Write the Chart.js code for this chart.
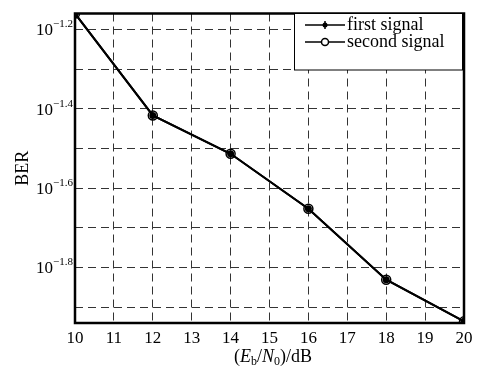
<!DOCTYPE html>
<html lang="en">
<head>
    <meta charset="UTF-8">
    <title>BER vs Eb/N0</title>
    <script src="https://cdn.jsdelivr.net/npm/chart.js"></script>
    <style>
        body { margin: 0; background: #fff; }
        #wrap { width: 487px; height: 369px; }
    </style>
</head>
<body>
    <div id="wrap"><canvas id="berChart"></canvas></div>

    <script>
        // values
        const snr = [10, 12, 14, 16, 18, 20];
        const firstSignal = [0.0692, 0.0383, 0.03065, 0.02228, 0.01476, 0.01159];
        const secondSignal = [0.0692, 0.0383, 0.03065, 0.02228, 0.01476, 0.01159];
        const yGridExps = [-1.2, -1.3, -1.4, -1.5, -1.6, -1.7, -1.8, -1.9];
        const yLabelExps = ['-1.2', '-1.4', '-1.6', '-1.8'];
        const seriesNames = ['first signal', 'second signal'];

        const serif = '"Liberation Serif", "Times New Roman", serif';

        const extras = {
            id: 'extras',
            afterDraw(chart) {
                const ctx = chart.ctx;
                const a = chart.chartArea;
                const y = chart.scales.y;
                ctx.save();

                // frame
                ctx.strokeStyle = '#000';
                ctx.lineWidth = 2.5;
                ctx.strokeRect(a.left, a.top, a.right - a.left, a.bottom - a.top);

                // y tick labels 10^e
                ctx.fillStyle = '#000';
                ctx.textBaseline = 'alphabetic';
                yLabelExps.forEach(e => {
                    const py = y.getPixelForValue(Math.pow(10, parseFloat(e)));
                    const sup = e.replace('-', '\u2212');
                    ctx.font = '11px ' + serif;
                    const sw = ctx.measureText(sup).width;
                    ctx.textAlign = 'right';
                    ctx.fillText(sup, a.left - 2, py - 2);
                    ctx.font = '17px ' + serif;
                    ctx.fillText('10', a.left - 2 - sw, py + 6);
                });

                // y title
                ctx.save();
                ctx.translate(22, (a.top + a.bottom) / 2);
                ctx.rotate(-Math.PI / 2);
                ctx.textAlign = 'center';
                ctx.font = '18px ' + serif;
                ctx.fillText('BER', 0, 6);
                ctx.restore();

                // x title (E_b/N_0)/dB
                const parts = [
                    ['(', '18px ' + serif, 0],
                    ['E', 'italic 18px ' + serif, 0],
                    ['b', '12px ' + serif, 3],
                    ['/', '18px ' + serif, 0],
                    ['N', 'italic 18px ' + serif, 0],
                    ['0', '12px ' + serif, 3],
                    [')/dB', '18px ' + serif, 0]
                ];
                let total = 0;
                parts.forEach(p => { ctx.font = p[1]; total += ctx.measureText(p[0]).width; });
                let px = 273 - total / 2;
                ctx.textAlign = 'left';
                parts.forEach(p => {
                    ctx.font = p[1];
                    ctx.fillText(p[0], px, 362 + p[2]);
                    px += ctx.measureText(p[0]).width;
                });

                // legend
                const lx = 294, ly = a.top, lw = 462 - 294, lh = 70 - a.top;
                ctx.fillStyle = '#fff';
                ctx.fillRect(lx, ly, lw, lh);
                ctx.strokeStyle = '#000';
                ctx.lineWidth = 1;
                ctx.strokeRect(lx + 0.5, ly, lw, lh);
                [25, 42].forEach((ry, i) => {
                    ctx.strokeStyle = '#000';
                    ctx.lineWidth = 1.5;
                    ctx.beginPath();
                    ctx.moveTo(305, ry);
                    ctx.lineTo(345, ry);
                    ctx.stroke();
                    if (i === 0) {
                        ctx.fillStyle = '#000';
                        ctx.beginPath();
                        ctx.arc(325, ry, 2.5, 0, Math.PI * 2);
                        ctx.fill();
                        ctx.beginPath();
                        ctx.moveTo(325, ry - 4);
                        ctx.lineTo(325, ry + 4);
                        ctx.stroke();
                    } else {
                        ctx.fillStyle = '#fff';
                        ctx.beginPath();
                        ctx.arc(325, ry, 3.5, 0, Math.PI * 2);
                        ctx.fill();
                        ctx.stroke();
                    }
                    ctx.fillStyle = '#000';
                    ctx.font = '18px ' + serif;
                    ctx.textAlign = 'left';
                    ctx.fillText(seriesNames[i], 347, ry + 5);
                });

                ctx.restore();
            }
        };

        new Chart(document.getElementById('berChart'), {
            type: 'line',
            data: {
                labels: snr,
                datasets: [{
                    label: seriesNames[0],
                    data: snr.map((x, i) => ({ x: x, y: firstSignal[i] })),
                    borderColor: '#000',
                    backgroundColor: '#000',
                    borderWidth: 2,
                    pointRadius: 3.5,
                    pointBorderWidth: 0,
                    tension: 0
                }, {
                    label: seriesNames[1],
                    data: snr.map((x, i) => ({ x: x, y: secondSignal[i] })),
                    borderColor: '#000',
                    backgroundColor: 'rgba(0,0,0,0)',
                    borderWidth: 2,
                    pointRadius: 4.5,
                    pointBorderWidth: 1.5,
                    tension: 0
                }]
            },
            options: {
                responsive: true,
                maintainAspectRatio: false,
                animation: false,
                layout: { padding: { top: 13.5, right: 23, left: 0, bottom: 0 } },
                plugins: {
                    legend: { display: false },
                    tooltip: { enabled: false }
                },
                scales: {
                    x: {
                        type: 'linear',
                        min: 10,
                        max: 20,
                        ticks: {
                            stepSize: 1,
                            color: '#000',
                            padding: 5,
                            font: { family: serif, size: 17 }
                        },
                        grid: { color: '#333', lineWidth: 1, drawTicks: false },
                        border: { display: false, dash: [8, 5] },
                        afterFit(scale) { scale.height = 46; }
                    },
                    y: {
                        type: 'logarithmic',
                        min: 0.01148,
                        max: 0.0692,
                        afterBuildTicks(scale) {
                            scale.ticks = yGridExps.map(e => ({ value: Math.pow(10, e) }));
                        },
                        ticks: { callback: () => '' },
                        grid: { color: '#333', lineWidth: 1, drawTicks: false },
                        border: { display: false, dash: [8, 5] },
                        afterFit(scale) { scale.width = 75; }
                    }
                }
            },
            plugins: [extras]
        });
    </script>
</body>
</html>
